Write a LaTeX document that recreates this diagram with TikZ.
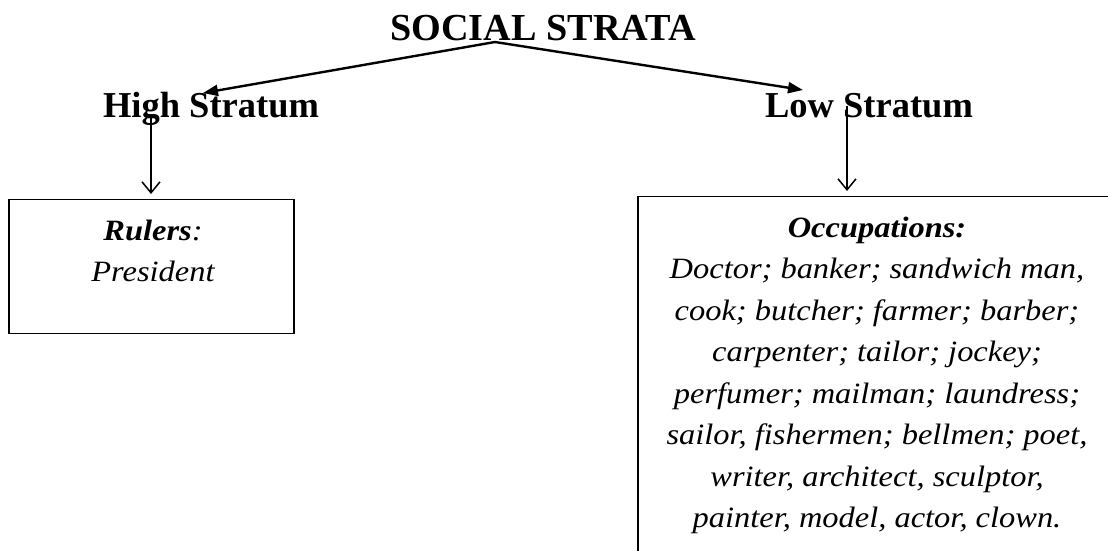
\documentclass[tikz,border=0pt]{standalone}
\usepackage{fontspec}
\setmainfont{Liberation Serif}
\newfontfamily\widefont{Liberation Serif}[FakeStretch=1.1]
\usetikzlibrary{arrows.meta}

\tikzset{
  heading/.style={font=\fontsize{36.5}{44}\selectfont\bfseries, inner sep=0pt, anchor=base},
  listbox/.style={draw, line width=1.4pt, inner sep=0pt},
  % the first line starts with a strut, so its baseline sits 0.7*41.5pt below the north anchor
  boxtext/.style={font=\widefont\fontsize{29.5}{41.5}\selectfont\itshape, align=center, inner sep=0pt, anchor=north, yshift=29.05pt},
  branch/.style={line width=2.4pt, -{Triangle[length=15pt, width=11pt]}},
  drop/.style={line width=1.5pt, -{Straight Barb[length=11pt, width=18pt, line width=1.5pt]}, shorten >=5pt}
}

\begin{document}
\begin{tikzpicture}[x=1pt, y=-1pt]
  \useasboundingbox (0,0) rectangle (1108,551);
  \clip (0,0) rectangle (1108,551);

  % headings
  \node[heading, font=\fontsize{38.2}{44}\selectfont\bfseries] (title) at (543,41) {SOCIAL STRATA};
  \node[heading] (high) at (211,117) {High Stratum};
  \node[heading] (low) at (869,117) {Low Stratum};

  % boxes
  \node[listbox, minimum width=285pt, minimum height=134pt, anchor=north] (highbox) at (151.5,199) {};
  \node[listbox, minimum width=478pt, minimum height=357pt, anchor=north] (lowbox) at (877,196) {};

  \node[boxtext] (rulers) at (153,240) {\strut\textbf{Rulers}:\\President};
  \node[boxtext] (occ) at (877,237) {\strut\textbf{Occupations:}\\
    Doctor; banker; sandwich man,\\
    cook; butcher; farmer; barber;\\
    carpenter; tailor; jockey;\\
    perfumer; mailman; laundress;\\
    sailor, fishermen; bellmen; poet,\\
    writer, architect, sculptor,\\
    painter, model, actor, clown.};

  % connector end points
  \coordinate (apex) at (495,42);
  \coordinate (hightip) at (203,93);
  \coordinate (lowtip) at (803,90);
  \coordinate (highfoot) at (151,118);
  \coordinate (lowfoot) at (847,106);

  \draw[branch] (apex) -- (hightip);
  \draw[branch] (apex) -- (lowtip);
  \draw[drop] (highfoot) -- (highfoot |- highbox.north);
  \draw[drop] (lowfoot) -- (lowfoot |- lowbox.north);
\end{tikzpicture}
\end{document}
